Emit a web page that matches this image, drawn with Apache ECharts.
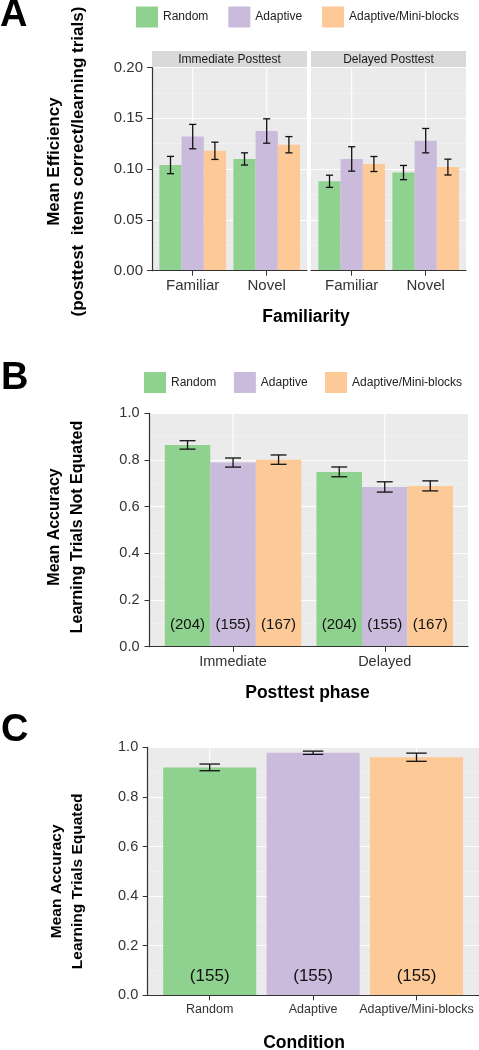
<!DOCTYPE html>
<html><head><meta charset="utf-8">
<script src="https://cdn.jsdelivr.net/npm/echarts@6/dist/echarts.min.js"></script>
<style>html,body{margin:0;padding:0;background:#fff}#c{width:479px;height:1050px}</style>
</head><body><div id="c"></div>
<script>
// ---------- data ----------
const conditions = ['Random', 'Adaptive', 'Adaptive/Mini-blocks'];
// Panel A : mean efficiency by familiarity, faceted by posttest
const familiarity = ['Familiar', 'Novel'];
const facetsA = ['Immediate Posttest', 'Delayed Posttest'];
const effImmediate = [[0.104, 0.110], [0.132, 0.1375], [0.118, 0.124]];     // per condition: [Familiar, Novel]
const seImmediate  = [[0.0085, 0.006], [0.012, 0.012], [0.0085, 0.008]];
const effDelayed   = [[0.088, 0.0966], [0.110, 0.128], [0.105, 0.102]];
const seDelayed    = [[0.006, 0.007], [0.012, 0.012], [0.0074, 0.0078]];
const yTicksA = [0, 0.05, 0.10, 0.15, 0.20];
// Panel B : accuracy, learning trials not equated
const phasesB = ['Immediate', 'Delayed'];
const accNotEq = [[0.8645, 0.749], [0.789, 0.6845], [0.8015, 0.689]];      // per condition: [Immediate, Delayed]
const seNotEq  = [[0.018, 0.021], [0.0195, 0.022], [0.020, 0.0215]];
const nNotEq   = [[204, 204], [155, 155], [167, 167]];
// Panel C : accuracy, learning trials equated
const accEq = [0.919, 0.978, 0.960];
const seEq  = [0.0135, 0.0065, 0.0165];
const nEq   = [155, 155, 155];
const yTicksAcc = [0, 0.2, 0.4, 0.6, 0.8, 1.0];

// ---------- styles ----------
const colors = ['#8fd18f', '#cabbdc', '#fdc996'];
const FONT = '"Liberation Sans", Arial, Helvetica, sans-serif';
const PANEL_BG = '#EBEBEB';
const AXIS_COL = '#333333';

const grids = [], xAxes = [], yAxes = [], series = [];

function errRender(nPer, frac) {
  return function (params, api) {
    const ci = api.value(0), m = api.value(1), s = api.value(2), k = api.value(3);
    const band = api.size([1, 0])[0];
    const bw = band * 0.9 / nPer;
    const c = api.coord([ci, m]);
    const x = c[0] + (k - (nPer - 1) / 2) * bw;
    const yt = api.coord([ci, m + s])[1], yb = api.coord([ci, m - s])[1];
    const hw = bw * frac / 2;
    const st = { stroke: '#111', lineWidth: 1.3 };
    return { type: 'group', children: [
      { type: 'line', shape: { x1: x, y1: yt, x2: x, y2: yb }, style: st },
      { type: 'line', shape: { x1: x - hw, y1: yt, x2: x + hw, y2: yt }, style: st },
      { type: 'line', shape: { x1: x - hw, y1: yb, x2: x + hw, y2: yb }, style: st }
    ] };
  };
}

function addPanel(cfg) {
  const gi = grids.length;
  const yMin = cfg.yTicks[0], yMax = cfg.yTicks[cfg.yTicks.length - 1];
  const yInt = cfg.yTicks[1] - cfg.yTicks[0];
  grids.push({ left: cfg.bg.left, top: cfg.bg.top, width: cfg.bg.width, height: cfg.bg.height,
    show: true, backgroundColor: PANEL_BG, borderWidth: 0, outerBoundsMode: 'none', containLabel: false });
  grids.push({ left: cfg.bar.left, top: cfg.bg.top, width: cfg.bar.width, height: cfg.bg.height,
    show: false, outerBoundsMode: 'none', containLabel: false });
  // background grid axes
  xAxes.push({ gridIndex: gi, type: 'category', data: cfg.cats, z: 4,
    axisLine: { show: true, lineStyle: { color: AXIS_COL, width: 1.2 } },
    axisTick: { show: false }, axisLabel: { show: false }, splitLine: { show: false } });
  yAxes.push({ gridIndex: gi, type: 'value', min: yMin, max: yMax, interval: yInt,
    axisLine: { show: cfg.showY, lineStyle: { color: AXIS_COL, width: 1.2 } },
    axisTick: { show: cfg.showY, length: 5, lineStyle: { color: AXIS_COL } },
    axisLabel: { show: cfg.showY, fontSize: cfg.yFont, color: AXIS_COL, fontFamily: FONT, margin: cfg.yMargin,
      formatter: v => v.toFixed(cfg.dec) },
    splitLine: { show: true, lineStyle: { color: '#ffffff', width: 1.1 } },
    minorTick: { show: false, splitNumber: 2 },
    minorSplitLine: { show: true, lineStyle: { color: '#F5F5F5', width: 0.6 } },
    name: cfg.yName || '', nameLocation: 'middle', nameRotate: 90, nameGap: cfg.nameGap || 0,
    nameTextStyle: { fontSize: cfg.nameFont || 16, fontWeight: 'bold', color: '#000', fontFamily: FONT,
      lineHeight: cfg.nameLH || 23, padding: cfg.namePad || 0 } });
  // bar grid axes
  xAxes.push({ gridIndex: gi + 1, type: 'category', data: cfg.cats,
    axisLine: { show: false },
    axisTick: { show: true, alignWithLabel: true, length: 5, lineStyle: { color: AXIS_COL } },
    axisLabel: { fontSize: cfg.xFont, color: AXIS_COL, fontFamily: FONT, margin: cfg.xMargin, interval: 0 },
    splitLine: { show: false } });
  yAxes.push({ gridIndex: gi + 1, type: 'value', min: yMin, max: yMax, interval: yInt, show: false });
  // vertical white grid lines at category centres
  series.push({ type: 'custom', xAxisIndex: gi + 1, yAxisIndex: gi + 1, z: 1, silent: true,
    data: cfg.cats.map((c, i) => [i, yMax]),
    renderItem: function (params, api) {
      const cs = params.coordSys;
      const p = api.coord([api.value(0), yMin]);
      return { type: 'line', shape: { x1: p[0], y1: cs.y, x2: p[0], y2: cs.y + cs.height },
        style: { stroke: '#ffffff', lineWidth: 1.1 } };
    } });
  const errData = [];
  if (cfg.single) {
    series.push({ type: 'bar', name: 'Mean accuracy', xAxisIndex: gi + 1, yAxisIndex: gi + 1, z: 2,
      barCategoryGap: '10%',
      data: cfg.values.map((v, i) => ({ value: v, itemStyle: { color: colors[i] } })),
      label: { show: true, position: 'insideBottom', distance: cfg.labDist, fontSize: cfg.labFont,
        color: '#111', fontFamily: FONT, formatter: p => '(' + cfg.counts[p.dataIndex] + ')' } });
    cfg.values.forEach((v, i) => errData.push([i, v, cfg.se[i], 0]));
  } else {
    conditions.forEach((name, k) => {
      const s = { type: 'bar', name: name, xAxisIndex: gi + 1, yAxisIndex: gi + 1, z: 2,
        barGap: '0%', barCategoryGap: '10%', data: cfg.values[k], itemStyle: { color: colors[k] } };
      if (cfg.counts) {
        s.label = { show: true, position: 'insideBottom', distance: cfg.labDist, fontSize: cfg.labFont,
          color: '#111', fontFamily: FONT, formatter: p => '(' + cfg.counts[k][p.dataIndex] + ')' };
      }
      series.push(s);
      cfg.values[k].forEach((v, i) => errData.push([i, v, cfg.se[k][i], k]));
    });
  }
  series.push({ type: 'custom', xAxisIndex: gi + 1, yAxisIndex: gi + 1, z: 3, silent: true,
    data: errData, renderItem: errRender(cfg.single ? 1 : 3, cfg.whisker) });
}

// Panel A, facet 1
addPanel({ bg: { left: 152, top: 67.5, width: 155, height: 203.2 }, bar: { left: 155.7, width: 148 },
  cats: familiarity, yTicks: yTicksA, dec: 2, showY: true, yFont: 15, yMargin: 9, xFont: 15, xMargin: 8,
  values: effImmediate, se: seImmediate, whisker: 0.32,
  yName: 'Mean Efficiency\n(posttest  items correct/learning trials)', nameGap: 62, nameFont: 17, nameLH: 24,
  namePad: [0, 0, 0, 15] });
// Panel A, facet 2
addPanel({ bg: { left: 311, top: 67.5, width: 155, height: 203.2 }, bar: { left: 314.7, width: 148 },
  cats: familiarity, yTicks: yTicksA, dec: 2, showY: false, yFont: 15, yMargin: 9, xFont: 15, xMargin: 8,
  values: effDelayed, se: seDelayed, whisker: 0.32 });
// Panel B
addPanel({ bg: { left: 149.5, top: 413.3, width: 318.5, height: 233.4 }, bar: { left: 157.2, width: 303.4 },
  cats: phasesB, yTicks: yTicksAcc, dec: 1, showY: true, yFont: 14.5, yMargin: 10, xFont: 14.5, xMargin: 7.5,
  values: accNotEq, se: seNotEq, counts: nNotEq, labDist: 14, labFont: 15, whisker: 0.35,
  yName: 'Mean Accuracy\nLearning Trials Not Equated', nameGap: 61, nameFont: 16, nameLH: 22.5,
  namePad: [0, 0, 0, 6] });
// Panel C
addPanel({ bg: { left: 147.7, top: 747.3, width: 331.3, height: 248 }, bar: { left: 158, width: 310.2 },
  cats: conditions, yTicks: yTicksAcc, dec: 1, showY: true, yFont: 14.5, yMargin: 9.5, xFont: 12.5, xMargin: 7.5,
  single: true, values: accEq, se: seEq, counts: nEq, labDist: 10, labFont: 17, whisker: 0.22,
  yName: 'Mean Accuracy\nLearning Trials Equated', nameGap: 59, nameFont: 15.5, nameLH: 21.5,
  namePad: [0, 20, 0, 0] });

const letterStyle = { fontSize: 38, fontWeight: 'bold', color: '#000', fontFamily: FONT };
const axTitleStyle = { fontSize: 17.5, fontWeight: 'bold', color: '#000', fontFamily: FONT };
const legendBase = { icon: 'rect', itemWidth: 22, itemHeight: 21, data: conditions,
  textStyle: { fontSize: 12, color: '#222', fontFamily: FONT }, selectedMode: false };

const stripRects = [{ x: 152, w: 155 }, { x: 311, w: 155 }];
const graphic = [];
facetsA.forEach((f, i) => {
  graphic.push({ type: 'rect', shape: { x: stripRects[i].x, y: 51, width: stripRects[i].w, height: 16 },
    style: { fill: '#D9D9D9' }, silent: true });
  graphic.push({ type: 'text', x: stripRects[i].x + stripRects[i].w / 2, y: 59.5,
    style: { text: f, fontSize: 12, fontFamily: FONT, fill: '#1a1a1a', align: 'center', verticalAlign: 'middle',
      textAlign: 'center', textVerticalAlign: 'middle' }, silent: true });
});

const chart = echarts.init(document.getElementById('c'), null, { renderer: 'canvas' });
chart.setOption({
  animation: false,
  backgroundColor: '#ffffff',
  textStyle: { fontFamily: FONT },
  title: [
    { text: 'A', left: 0, top: -3, padding: 0, textStyle: letterStyle },
    { text: 'B', left: 1, top: 360, padding: 0, textStyle: letterStyle },
    { text: 'C', left: 1, top: 712, padding: 0, textStyle: letterStyle },
    { text: 'Familiarity', left: 306, top: 308, padding: 0, textAlign: 'center', textStyle: axTitleStyle },
    { text: 'Posttest phase', left: 307.5, top: 684, padding: 0, textAlign: 'center', textStyle: axTitleStyle },
    { text: 'Condition', left: 304, top: 1034, padding: 0, textAlign: 'center', textStyle: axTitleStyle }
  ],
  legend: [
    Object.assign({}, legendBase, { left: 136, top: 6.5, itemGap: 20, padding: 0 }),
    Object.assign({}, legendBase, { left: 144, top: 372, itemGap: 17.5, padding: 0 })
  ],
  grid: grids, xAxis: xAxes, yAxis: yAxes, series: series,
  graphic: graphic
});
</script></body></html>
